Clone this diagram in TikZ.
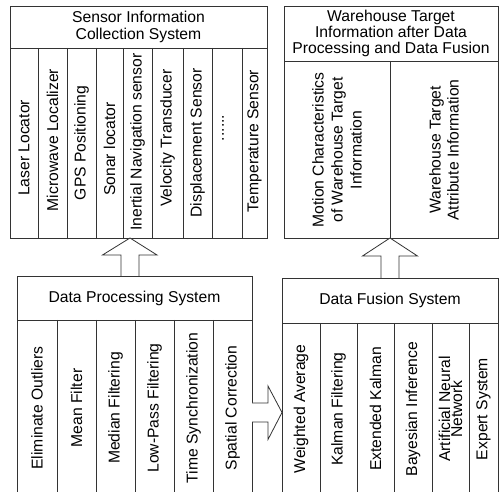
\documentclass[tikz,border=0pt]{standalone}
\usepackage{fontspec}
\setmainfont{Liberation Sans}
\tikzset{
  boxline/.style={draw=black!80, line width=0.8pt},
  headtext/.style={align=center, font=\fontsize{15.7}{16.5}\selectfont},
  celltext/.style={rotate=90, align=center, font=\fontsize{15.7}{19}\selectfont},
  fatarrow/.style={draw=black!80, line width=0.8pt, fill=white},
}
\begin{document}
\begin{tikzpicture}[x=1pt, y=-1pt]
    \useasboundingbox (0,0) rectangle (499,492);
    \clip (0,0) rectangle (499,492);
    % sensor information collection system
    \draw[boxline] (10,6) rectangle (267,238);
    \draw[boxline] (10,48) -- (267,48);
    \foreach \x in {38,67,96,123,152,183,212,242}
        \draw[boxline] (\x,48) -- (\x,238);
    \node[headtext] (sensor) at (138.5,27) {Sensor Information\\Collection System};
    \node[celltext] (laser) at (24,148) {Laser Locator};
    \node[celltext] (microwave) at (52.5,140) {Microwave Localizer};
    \node[celltext] (gps) at (81.5,143) {GPS Positioning};
    \node[celltext] (sonar) at (109.5,149) {Sonar locator};
    \node[celltext] (inertial) at (137.5,142) {Inertial Navigation sensor};
    \node[celltext] (velocity) at (167.5,138) {Velocity Transducer};
    \node[celltext] (displace) at (197.5,143) {Displacement Sensor};
    \node[celltext] (dots) at (223,128) {......};
    \node[celltext] (temperature) at (254.5,141) {Temperature Sensor};
    % warehouse target information
    \draw[boxline] (284,6) rectangle (498,238);
    \draw[boxline] (284,61) -- (498,61);
    \draw[boxline] (390,61) -- (390,238);
    \node[headtext, font=\fontsize{15.7}{16}\selectfont] (target) at (391,33)
        {Warehouse Target\\Information after Data\\Processing and Data Fusion};
    \node[celltext] (motion) at (337,150) {Motion Characteristics\\of Warehouse Target\\Information};
    \node[celltext, font=\fontsize{15.7}{18}\selectfont] (attribute) at (444,150) {Warehouse Target\\Attribute Information};
    % data processing system
    \draw[boxline] (17,276) rectangle (252,495);
    \draw[boxline] (17,320) -- (252,320);
    \foreach \x in {57,96,135,174,213}
        \draw[boxline] (\x,320) -- (\x,495);
    \node[headtext] (process) at (134.5,298) {Data Processing System};
    \node[celltext] (outliers) at (37,408) {Eliminate Outliers};
    \node[celltext] (mean) at (76.5,408) {Mean Filter};
    \node[celltext] (median) at (115.5,408) {Median Filtering};
    \node[celltext] (lowpass) at (154.5,408) {Low-Pass Filtering};
    \node[celltext] (timesync) at (193.5,408) {Time Synchronization};
    \node[celltext] (spatial) at (232.5,408) {Spatial Correction};
    % data fusion system
    \draw[boxline] (282,278) rectangle (498,495);
    \draw[boxline] (282,323) -- (498,323);
    \foreach \x in {320,357,394,432,469}
        \draw[boxline] (\x,323) -- (\x,495);
    \node[headtext] (fusion) at (390,300.5) {Data Fusion System};
    \node[celltext] (weighted) at (301,409) {Weighted Average};
    \node[celltext] (kalman) at (338.5,409) {Kalman Filtering};
    \node[celltext] (extended) at (375.5,409) {Extended Kalman};
    \node[celltext] (bayes) at (413,409) {Bayesian Inference};
    \node[celltext, font=\fontsize{15.7}{12}\selectfont] (neural) at (450.5,409) {Artificial Neural\\Network};
    \node[celltext] (expert) at (483.5,409) {Expert System};
    % block arrows
    \coordinate (dptop) at (130,276);
    \coordinate (sensbot) at (130,238);
    \coordinate (dftop) at (390,278);
    \coordinate (targetbot) at (390,238);
    \coordinate (dpright) at (252,412.5);
    \coordinate (dfleft) at (282,412.5);
    \draw[fatarrow] (dptop) ++(-9,0) |- ++(-18.5,-21) -- (sensbot) -- ++(27,17) -- ++(-18,0) -- ++(0,21);
    \draw[fatarrow] (dftop) ++(-9,0) |- ++(-18.5,-22) -- (targetbot) -- ++(27.5,18) -- ++(-18.5,0) -- ++(0,22);
    \draw[fatarrow] (dpright) ++(0,-9.5) -| ++(16,-17) -- (dfleft) -- ++(-14,27) -- ++(0,-17.5) -- ++(-16,0);
\end{tikzpicture}
\end{document}
